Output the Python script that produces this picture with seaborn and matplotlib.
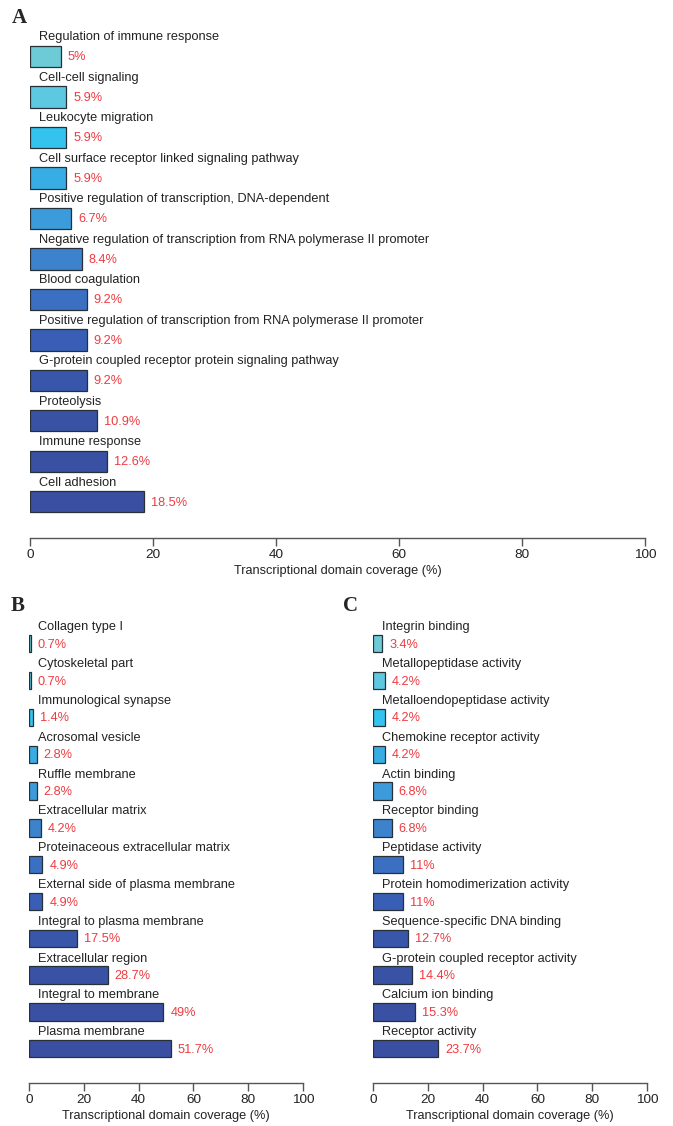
import pandas as pd
import numpy as np
import matplotlib.pyplot as plt
import seaborn as sns

# data
terms_a = ['Regulation of immune response', 'Cell-cell signaling', 'Leukocyte migration',
           'Cell surface receptor linked signaling pathway',
           'Positive regulation of transcription, DNA-dependent',
           'Negative regulation of transcription from RNA polymerase II promoter',
           'Blood coagulation',
           'Positive regulation of transcription from RNA polymerase II promoter',
           'G-protein coupled receptor protein signaling pathway',
           'Proteolysis', 'Immune response', 'Cell adhesion']
values_a = [5, 5.9, 5.9, 5.9, 6.7, 8.4, 9.2, 9.2, 9.2, 10.9, 12.6, 18.5]

terms_b = ['Collagen type I', 'Cytoskeletal part', 'Immunological synapse', 'Acrosomal vesicle',
           'Ruffle membrane', 'Extracellular matrix', 'Proteinaceous extracellular matrix',
           'External side of plasma membrane', 'Integral to plasma membrane',
           'Extracellular region', 'Integral to membrane', 'Plasma membrane']
values_b = [0.7, 0.7, 1.4, 2.8, 2.8, 4.2, 4.9, 4.9, 17.5, 28.7, 49, 51.7]

terms_c = ['Integrin binding', 'Metallopeptidase activity', 'Metalloendopeptidase activity',
           'Chemokine receptor activity', 'Actin binding', 'Receptor binding',
           'Peptidase activity', 'Protein homodimerization activity',
           'Sequence-specific DNA binding', 'G-protein coupled receptor activity',
           'Calcium ion binding', 'Receptor activity']
values_c = [3.4, 4.2, 4.2, 4.2, 6.8, 6.8, 11, 11, 12.7, 14.4, 15.3, 23.7]

# 颜色渐变（浅青 -> 深蓝）
bar_colors = ['#6ccbd7', '#5ec8e0', '#33c3ee', '#38ade4', '#3c9bdb', '#3c82cc',
              '#3a6fc2', '#385fb5', '#3856aa', '#3a52a3', '#3a50a2', '#3b4fa2']
xticks = [0, 20, 40, 60, 80, 100]
xlabel = 'Transcriptional domain coverage (%)'

sns.set_theme(style='white')
plt.rcParams['font.family'] = ['Liberation Sans', 'DejaVu Sans']

W, H = 673, 1126
fig = plt.figure(figsize=(W / 100, H / 100), dpi=100)


def px_axes(x0, x1, y_top, y_bot):
    return fig.add_axes([x0 / W, 1 - y_bot / H, (x1 - x0) / W, (y_bot - y_top) / H])


def draw_panel(ax, terms, values, bar_w, ylim_bot, label_dy, fs):
    df = pd.DataFrame({'term': terms, 'value': values})
    sns.barplot(data=df, x='value', y='term', hue='term', palette=bar_colors,
                orient='h', width=bar_w, edgecolor='#263036', linewidth=0.9,
                saturation=1, legend=False, ax=ax)
    for i, (t, v) in enumerate(zip(terms, values)):
        ax.annotate(t, xy=(0, i - label_dy), xytext=(9, 0), textcoords='offset pixels',
                    ha='left', va='center', fontsize=fs, color='#222222',
                    annotation_clip=False)
        ax.annotate(f'{v:g}%', xy=(v, i), xytext=(7, -1), textcoords='offset pixels',
                    ha='left', va='center', fontsize=fs, color='#f03a40',
                    annotation_clip=False)
    ax.set_xlim(0, 100)
    ax.set_ylim(ylim_bot, -1)
    ax.set_xticks(xticks)
    ax.set_yticks([])
    ax.set_ylabel('')
    ax.set_xlabel(xlabel, fontsize=fs, color='#222222', labelpad=3)
    for s in ['top', 'right', 'left']:
        ax.spines[s].set_visible(False)
    ax.spines['bottom'].set_color('#555555')
    ax.spines['bottom'].set_linewidth(1.0)
    ax.tick_params(axis='x', bottom=True, length=6, width=1.0, color='#555555',
                   labelsize=fs + 0.5, labelcolor='#222222', pad=2)


# A
ax_a = px_axes(30, 645, 16, 538)
draw_panel(ax_a, terms_a, values_a, 0.52, 11.89, 0.48, 9.2)

# B
ax_b = px_axes(29, 303, 607, 1083)
draw_panel(ax_b, terms_b, values_b, 0.47, 11.93, 0.45, 9.2)

# C
ax_c = px_axes(373, 647, 607, 1083)
draw_panel(ax_c, terms_c, values_c, 0.47, 11.93, 0.45, 9.2)

letter_kw = dict(fontsize=15, fontweight='bold', family='Liberation Serif',
                 ha='left', va='center')
fig.text(12 / W, 1 - 18 / H, 'A', **letter_kw)
fig.text(11 / W, 1 - 606 / H, 'B', **letter_kw)
fig.text(343 / W, 1 - 606 / H, 'C', **letter_kw)

plt.savefig('out.png', dpi=100)
